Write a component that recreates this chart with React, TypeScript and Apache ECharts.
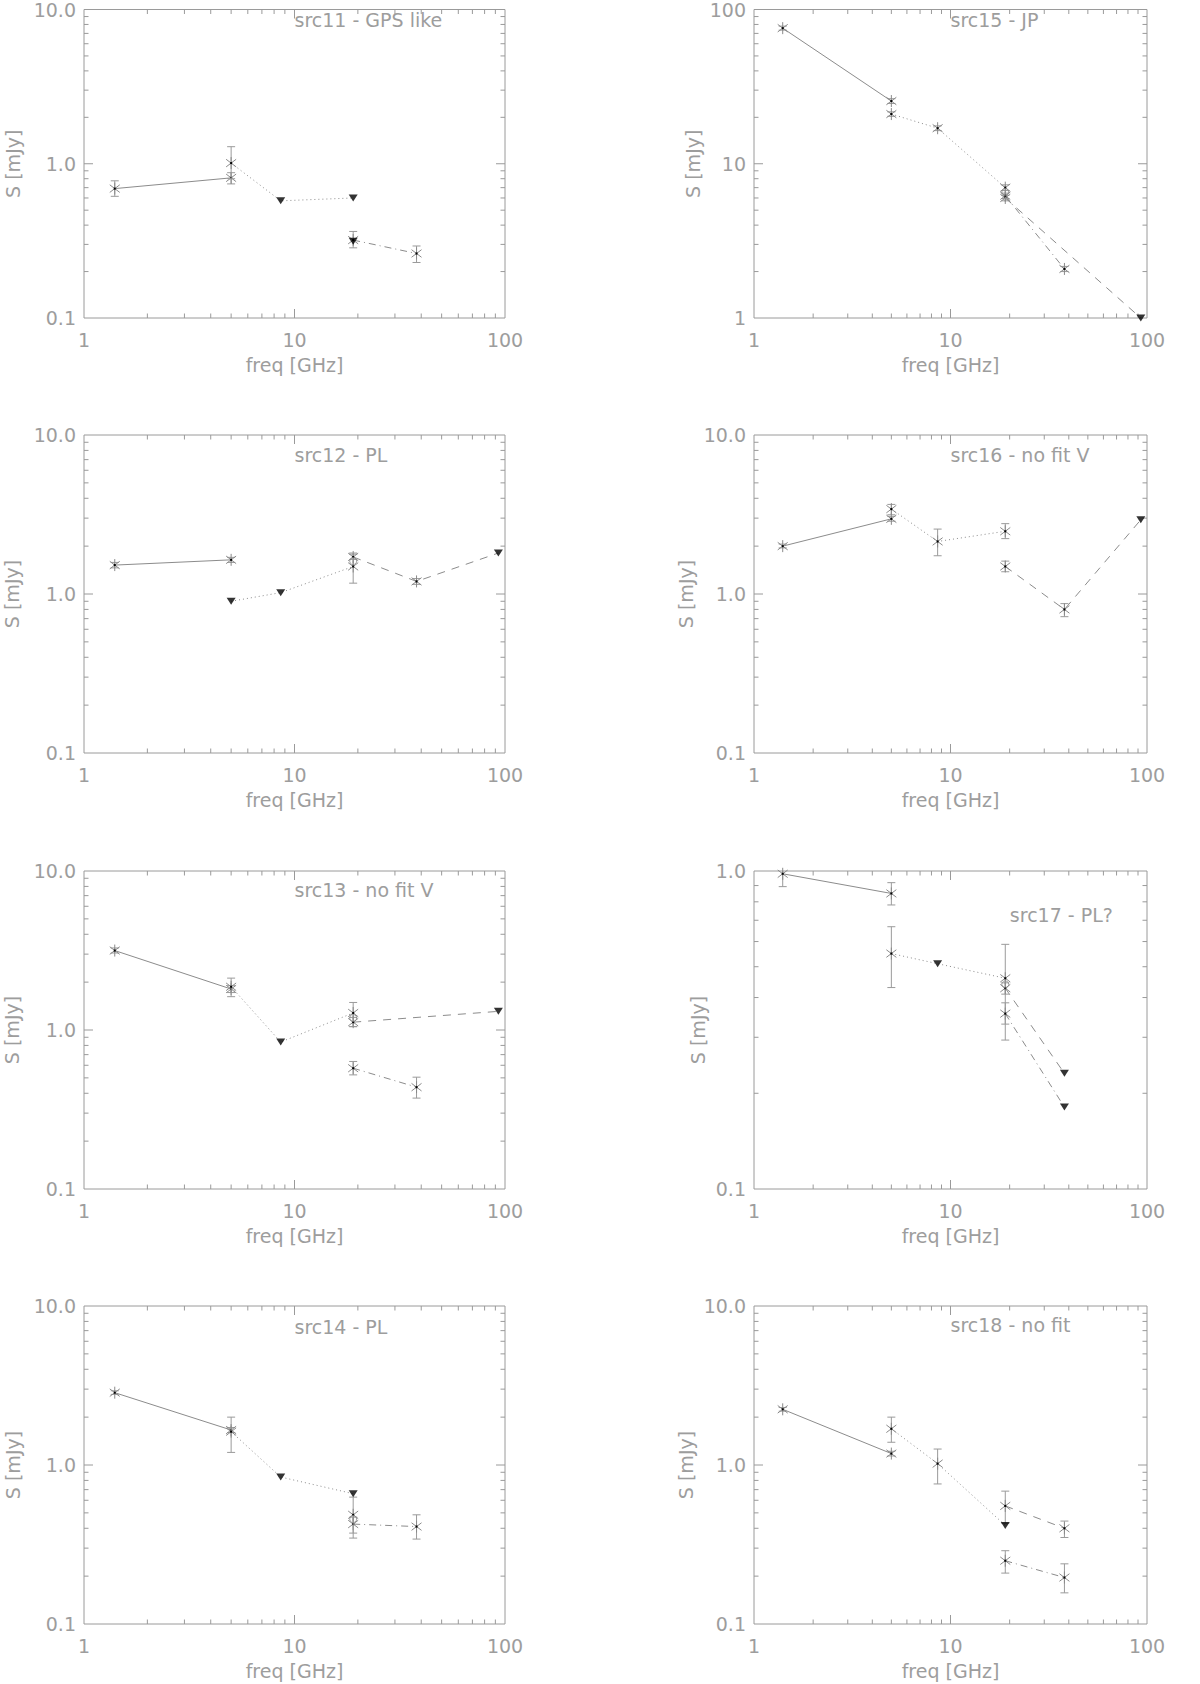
import React, { useEffect, useRef } from "react";
import * as echarts from "echarts";

// ---------- data: [freq GHz, S mJy, errLow, errHigh]; errLow === null => upper limit ----------
type Pt = (number | null)[];

const src11Solid: Pt[] = [[1.4, 0.69, 0.615, 0.775], [5.0, 0.81, 0.74, 0.875]];
const src11Dotted: Pt[] = [[5.0, 1.01, 0.8, 1.29], [8.6, 0.575, null, null], [19, 0.6, null, null]];
const src11Dashed: Pt[] = [];
const src11DashDot: Pt[] = [[19, 0.32, 0.285, 0.364], [38, 0.262, 0.229, 0.293]];
const src11Extra: Pt[] = [[19, 0.315, null, null]];
const src11Circles: number[][] = [];

const src12Solid: Pt[] = [[1.4, 1.52, 1.46, 1.58], [5.0, 1.64, 1.58, 1.7]];
const src12Dotted: Pt[] = [[5.0, 0.9, null, null], [8.6, 1.02, null, null], [19, 1.49, 1.17, 1.81]];
const src12Dashed: Pt[] = [[19, 1.71, 1.65, 1.78], [38, 1.2, 1.15, 1.25], [93, 1.81, null, null]];
const src12DashDot: Pt[] = [];
const src12Extra: Pt[] = [];
const src12Circles: number[][] = [[19, 1.61]];

const src13Solid: Pt[] = [[1.4, 3.16, 3.05, 3.28], [5.0, 1.81, 1.72, 1.9]];
const src13Dotted: Pt[] = [[5.0, 1.87, 1.62, 2.12], [8.6, 0.84, null, null], [19, 1.28, 1.05, 1.49]];
const src13Dashed: Pt[] = [[19, 1.12, 1.05, 1.2], [93, 1.31, null, null]];
const src13DashDot: Pt[] = [[19, 0.575, 0.522, 0.634], [38, 0.437, 0.373, 0.505]];
const src13Extra: Pt[] = [];
const src13Circles: number[][] = [[19, 1.19]];

const src14Solid: Pt[] = [[1.4, 2.85, 2.78, 2.93], [5.0, 1.66, 1.6, 1.72]];
const src14Dotted: Pt[] = [[5.0, 1.62, 1.2, 2.0], [8.6, 0.84, null, null], [19, 0.66, null, null]];
const src14Dashed: Pt[] = [];
const src14DashDot: Pt[] = [[19, 0.425, 0.347, 0.47], [38, 0.41, 0.342, 0.486]];
const src14Extra: Pt[] = [[19, 0.486, 0.373, 0.628]];
const src14Circles: number[][] = [[19, 0.457]];

const src15Solid: Pt[] = [[1.4, 75.7, 73.5, 78], [5.0, 25.5, 24.6, 26.4]];
const src15Dotted: Pt[] = [[5.0, 21, 20.3, 21.7], [8.6, 17, 16.4, 17.6], [19, 7.0, 6.7, 7.3]];
const src15Dashed: Pt[] = [[19, 6.0, 5.75, 6.25], [93, 1.0, null, null]];
const src15DashDot: Pt[] = [[19, 6.2, 5.95, 6.45], [38, 2.08, 2.0, 2.16]];
const src15Extra: Pt[] = [];
const src15Circles: number[][] = [[19, 6.55]];

const src16Solid: Pt[] = [[1.4, 2.0, 1.95, 2.06], [5.0, 2.97, 2.87, 3.08]];
const src16Dotted: Pt[] = [[5.0, 3.42, 3.15, 3.66], [8.6, 2.14, 1.74, 2.56], [19, 2.48, 2.23, 2.77]];
const src16Dashed: Pt[] = [[19, 1.49, 1.38, 1.61], [38, 0.8, 0.72, 0.87], [93, 2.93, null, null]];
const src16DashDot: Pt[] = [];
const src16Extra: Pt[] = [];
const src16Circles: number[][] = [];

const src17Solid: Pt[] = [[1.4, 0.98, 0.893, 1.07], [5.0, 0.85, 0.782, 0.919]];
const src17Dotted: Pt[] = [[5.0, 0.55, 0.43, 0.668], [8.6, 0.511, null, null], [19, 0.46, 0.294, 0.588]];
const src17Dashed: Pt[] = [[19, 0.428, 0.41, 0.445], [38, 0.231, null, null]];
const src17DashDot: Pt[] = [[19, 0.356, 0.33, 0.385], [38, 0.181, null, null]];
const src17Extra: Pt[] = [];
const src17Circles: number[][] = [[19, 0.44]];

const src18Solid: Pt[] = [[1.4, 2.24, 2.18, 2.3], [5.0, 1.18, 1.14, 1.22]];
const src18Dotted: Pt[] = [[5.0, 1.69, 1.39, 2.0], [8.6, 1.02, 0.76, 1.26], [19, 0.417, null, null]];
const src18Dashed: Pt[] = [[19, 0.553, 0.43, 0.685], [38, 0.4, 0.35, 0.444]];
const src18DashDot: Pt[] = [[19, 0.25, 0.209, 0.289], [38, 0.196, 0.157, 0.239]];
const src18Extra: Pt[] = [];
const src18Circles: number[][] = [];

// ---------- axis ticks / labels ----------
const X_TICK_VALUES = [1, 10, 100];
const X_TICK_LABELS = ["1", "10", "100"];
const X_MINOR = [2, 3, 4, 5, 6, 7, 8, 9, 20, 30, 40, 50, 60, 70, 80, 90];

const Y_VALUES_A = [0.1, 1, 10];
const Y_LABELS_A = ["0.1", "1.0", "10.0"];
const Y_MINOR_A = [0.2, 0.3, 0.4, 0.5, 0.6, 0.7, 0.8, 0.9, 2, 3, 4, 5, 6, 7, 8, 9];

const Y_VALUES_B = [1, 10, 100];
const Y_LABELS_B = ["1", "10", "100"];
const Y_MINOR_B = [2, 3, 4, 5, 6, 7, 8, 9, 20, 30, 40, 50, 60, 70, 80, 90];

const Y_VALUES_C = [0.1, 1];
const Y_LABELS_C = ["0.1", "1.0"];
const Y_MINOR_C = [0.2, 0.3, 0.4, 0.5, 0.6, 0.7, 0.8, 0.9];

const TITLES = [
  "src11 - GPS like", "src12 - PL", "src13 - no fit V", "src14 - PL",
  "src15 - JP", "src16 - no fit V", "src17 - PL?", "src18 - no fit",
];
const X_NAME = "freq [GHz]";
const Y_NAME = "S [mJy]";

const PANELS = [
  { solid: src11Solid, dotted: src11Dotted, dashed: src11Dashed, dashDot: src11DashDot, extra: src11Extra, circles: src11Circles, yv: Y_VALUES_A, yl: Y_LABELS_A, ym: Y_MINOR_A },
  { solid: src12Solid, dotted: src12Dotted, dashed: src12Dashed, dashDot: src12DashDot, extra: src12Extra, circles: src12Circles, yv: Y_VALUES_A, yl: Y_LABELS_A, ym: Y_MINOR_A },
  { solid: src13Solid, dotted: src13Dotted, dashed: src13Dashed, dashDot: src13DashDot, extra: src13Extra, circles: src13Circles, yv: Y_VALUES_A, yl: Y_LABELS_A, ym: Y_MINOR_A },
  { solid: src14Solid, dotted: src14Dotted, dashed: src14Dashed, dashDot: src14DashDot, extra: src14Extra, circles: src14Circles, yv: Y_VALUES_A, yl: Y_LABELS_A, ym: Y_MINOR_A },
  { solid: src15Solid, dotted: src15Dotted, dashed: src15Dashed, dashDot: src15DashDot, extra: src15Extra, circles: src15Circles, yv: Y_VALUES_B, yl: Y_LABELS_B, ym: Y_MINOR_B },
  { solid: src16Solid, dotted: src16Dotted, dashed: src16Dashed, dashDot: src16DashDot, extra: src16Extra, circles: src16Circles, yv: Y_VALUES_A, yl: Y_LABELS_A, ym: Y_MINOR_A },
  { solid: src17Solid, dotted: src17Dotted, dashed: src17Dashed, dashDot: src17DashDot, extra: src17Extra, circles: src17Circles, yv: Y_VALUES_C, yl: Y_LABELS_C, ym: Y_MINOR_C },
  { solid: src18Solid, dotted: src18Dotted, dashed: src18Dashed, dashDot: src18DashDot, extra: src18Extra, circles: src18Circles, yv: Y_VALUES_A, yl: Y_LABELS_A, ym: Y_MINOR_A },
];

// ---------- layout / style ----------
const COL_LEFT = [84, 754];
const COL_WIDTH = [421, 393];
const ROW_TOP = [0, 435, 871, 1306];
const PLOT_H = 318;
const Y_NAME_GAP = [62, 63, 63, 62, 52, 59, 47, 59];
const TITLE_DX = [0.5, 0.5, 0.5, 0.5, 0.5, 0.5, 0.651, 0.5];
const TITLE_DY = [20, 20, 19, 21, 20, 20, 44, 19];

const FONT = '"DejaVu Sans", "Liberation Sans", sans-serif';
const FONT_SIZE = 19;
const TEXT_COLOR = "#9d9d9d";
const AXIS_COLOR = "#9a9a9a";
const LINE_COLOR = "#8c8c8c";
const ERR_COLOR = "#9a9a9a";
const STAR_COLOR = "#8a8a8a";

const DASH_SOLID = "solid";
const DASH_DOTTED = [1, 3];
const DASH_DASHED = [8, 7];
const DASH_DASHDOT = [7, 4, 1, 4];

function labelFor(values: number[], labels: string[], v: number) {
  let best = 0;
  let bd = Infinity;
  values.forEach((x, i) => {
    const d = Math.abs(Math.log10(x) - Math.log10(v));
    if (d < bd) { bd = d; best = i; }
  });
  return bd < 0.01 ? labels[best] : "";
}

function renderPoint(params: any, api: any) {
  const cs = params.coordSys;
  const f = api.value(0), s = api.value(1), lo = api.value(2), hi = api.value(3);
  const c = api.coord([f, s]);
  const top = cs.y, bottom = cs.y + cs.height;
  let yLo = api.coord([f, lo])[1];
  let yHi = api.coord([f, hi])[1];
  const capLo = yLo <= bottom + 0.5;
  const capHi = yHi >= top - 0.5;
  yLo = Math.min(yLo, bottom);
  yHi = Math.max(yHi, top);
  const es = { stroke: ERR_COLOR, lineWidth: 1 };
  const ss = { stroke: STAR_COLOR, lineWidth: 1 };
  const children: any[] = [];
  children.push({ type: "line", shape: { x1: c[0], y1: yLo, x2: c[0], y2: yHi }, style: es });
  if (capLo) children.push({ type: "line", shape: { x1: c[0] - 4, y1: yLo, x2: c[0] + 4, y2: yLo }, style: es });
  if (capHi) children.push({ type: "line", shape: { x1: c[0] - 4, y1: yHi, x2: c[0] + 4, y2: yHi }, style: es });
  const r = 6, dx = 5, dy = 3.8;
  children.push({ type: "line", shape: { x1: c[0], y1: c[1] - r, x2: c[0], y2: c[1] + r }, style: ss });
  children.push({ type: "line", shape: { x1: c[0] - dx, y1: c[1] - dy, x2: c[0] + dx, y2: c[1] + dy }, style: ss });
  children.push({ type: "line", shape: { x1: c[0] - dx, y1: c[1] + dy, x2: c[0] + dx, y2: c[1] - dy }, style: ss });
  children.push({ type: "rect", shape: { x: c[0] - 1, y: c[1] - 1, width: 2, height: 2 }, style: { fill: "#000" } });
  return { type: "group", children };
}

function renderTick(params: any, api: any) {
  const cs = params.coordSys;
  const kind = api.value(2);
  const major = api.value(3);
  const p = api.coord([api.value(0), api.value(1)]);
  const len = major ? 9 : 4.5;
  const st = { stroke: AXIS_COLOR, lineWidth: 1 };
  const top = cs.y, bottom = cs.y + cs.height, left = cs.x, right = cs.x + cs.width;
  if (kind === 0) {
    return {
      type: "group",
      children: [
        { type: "line", shape: { x1: p[0], y1: bottom, x2: p[0], y2: bottom - len }, style: st },
        { type: "line", shape: { x1: p[0], y1: top, x2: p[0], y2: top + len }, style: st },
      ],
    };
  }
  return {
    type: "group",
    children: [
      { type: "line", shape: { x1: left, y1: p[1], x2: left + len, y2: p[1] }, style: st },
      { type: "line", shape: { x1: right, y1: p[1], x2: right - len, y2: p[1] }, style: st },
    ],
  };
}

function buildOption() {
  const grid: any[] = [];
  const xAxis: any[] = [];
  const yAxis: any[] = [];
  const series: any[] = [];
  const graphic: any[] = [];
  const textStyle = { color: TEXT_COLOR, fontSize: FONT_SIZE, fontFamily: FONT };

  PANELS.forEach((p, i) => {
    const col = i < 4 ? 0 : 1;
    const row = i % 4;
    const left = COL_LEFT[col], width = COL_WIDTH[col], top = ROW_TOP[row];
    const yMin = p.yv[0], yMax = p.yv[p.yv.length - 1];
    grid.push({ left, top, width, height: PLOT_H, show: true, borderColor: AXIS_COLOR, borderWidth: 1, backgroundColor: "transparent" });
    xAxis.push({
      type: "log", logBase: 10, gridIndex: i, min: 1, max: 100,
      name: X_NAME, nameLocation: "middle", nameGap: 37, nameTextStyle: textStyle,
      axisLine: { show: false }, axisTick: { show: false }, splitLine: { show: false },
      axisLabel: { ...textStyle, margin: 12, formatter: (v: number) => labelFor(X_TICK_VALUES, X_TICK_LABELS, v) },
    });
    yAxis.push({
      type: "log", logBase: 10, gridIndex: i, min: yMin, max: yMax,
      name: Y_NAME, nameLocation: "middle", nameGap: Y_NAME_GAP[i], nameTextStyle: textStyle,
      axisLine: { show: false }, axisTick: { show: false }, splitLine: { show: false },
      axisLabel: { ...textStyle, margin: 8, formatter: (v: number) => labelFor(p.yv, p.yl, v) },
    });

    const segs: [Pt[], any][] = [
      [p.solid, DASH_SOLID], [p.dotted, DASH_DOTTED], [p.dashed, DASH_DASHED], [p.dashDot, DASH_DASHDOT],
    ];
    const pts: any[] = [];
    const lims: any[] = [];
    segs.forEach(([seg, dash]) => {
      if (!seg.length) return;
      series.push({
        type: "line", xAxisIndex: i, yAxisIndex: i, data: seg.map((q) => [q[0], q[1]]),
        symbol: "none", silent: true, z: 2, clip: false,
        lineStyle: { color: LINE_COLOR, width: 1, type: dash },
      });
      seg.forEach((q) => (q[2] === null ? lims.push([q[0], q[1]]) : pts.push(q)));
    });
    p.extra.forEach((q) => (q[2] === null ? lims.push([q[0], q[1]]) : pts.push(q)));

    series.push({ type: "custom", xAxisIndex: i, yAxisIndex: i, data: pts, renderItem: renderPoint, silent: true, z: 3 });
    if (lims.length) {
      series.push({
        type: "scatter", xAxisIndex: i, yAxisIndex: i, data: lims, symbol: "triangle", symbolRotate: 180,
        symbolSize: [9, 7], itemStyle: { color: "#000" }, silent: true, z: 4, clip: false,
      });
    }
    if (p.circles.length) {
      series.push({
        type: "scatter", xAxisIndex: i, yAxisIndex: i, data: p.circles, symbol: "circle", symbolSize: 7,
        itemStyle: { color: "rgba(0,0,0,0)", borderColor: STAR_COLOR, borderWidth: 1 }, silent: true, z: 3,
      });
    }
    const ticks: any[] = [];
    X_TICK_VALUES.slice(1, -1).forEach((v) => ticks.push([v, yMin, 0, 1]));
    X_MINOR.forEach((v) => ticks.push([v, yMin, 0, 0]));
    p.yv.slice(1, -1).forEach((v) => ticks.push([1, v, 1, 1]));
    p.ym.forEach((v) => ticks.push([1, v, 1, 0]));
    series.push({ type: "custom", xAxisIndex: i, yAxisIndex: i, data: ticks, renderItem: renderTick, silent: true, z: 1 });

    graphic.push({
      type: "text", x: left + width * TITLE_DX[i], y: top + TITLE_DY[i], silent: true,
      style: { text: TITLES[i], fill: TEXT_COLOR, fontSize: FONT_SIZE, fontFamily: FONT, verticalAlign: "middle", align: "left" },
    });
  });

  return { animation: false, backgroundColor: "#fff", grid, xAxis, yAxis, series, graphic };
}

export default function App() {
  const ref = useRef<HTMLDivElement>(null);
  useEffect(() => {
    if (!ref.current) return;
    const chart = echarts.init(ref.current, undefined, { renderer: "svg" });
    chart.setOption(buildOption() as any);
    return () => chart.dispose();
  }, []);
  return <div ref={ref} style={{ position: "absolute", left: 0, top: 0, width: 1200, height: 1684 }} />;
}
